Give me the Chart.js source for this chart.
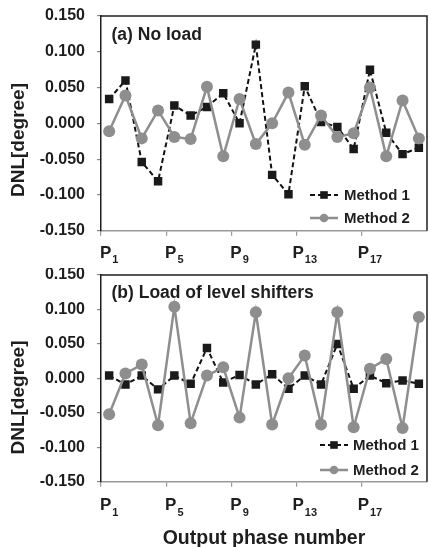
<!DOCTYPE html>
<html><head><meta charset="utf-8">
<script src="https://cdn.jsdelivr.net/npm/chart.js@4.4.1/dist/chart.umd.min.js"></script>
<style>
html,body{margin:0;padding:0;background:#fff;width:430px;height:547px;overflow:hidden}
.box{position:absolute;left:0;width:430px}
#b1{top:0;height:268px}
#b2{top:268px;height:279px}
canvas{display:block}
</style></head><body>
<div class="box" id="b1"><canvas id="c1" width="430" height="268"></canvas></div>
<div class="box" id="b2"><canvas id="c2" width="430" height="279"></canvas></div>
<script>
// ---- data ----
const phases = ['P1','P2','P3','P4','P5','P6','P7','P8','P9','P10','P11','P12','P13','P14','P15','P16','P17','P18','P19','P20'];
const shownPhases = ['P1','P5','P9','P13','P17'];
const seriesNames = ['Method 1','Method 2'];
const panelTitles = ['(a) No load','(b) Load of level shifters'];
const yAxisTitle = 'DNL[degree]';
const xAxisTitle = 'Output phase number';
const noLoadMethod1 = [0.034,0.060,-0.054,-0.081,0.025,0.011,0.023,0.042,0.000,0.110,-0.072,-0.099,0.052,0.002,-0.005,-0.036,0.075,-0.013,-0.043,-0.034];
const noLoadMethod2 = [-0.011,0.039,-0.021,0.018,-0.019,-0.022,0.051,-0.046,0.034,-0.029,0.000,0.043,-0.030,0.011,-0.019,-0.014,0.050,-0.046,0.032,-0.021];
const shifterMethod1 = [0.004,-0.009,0.004,-0.016,0.004,-0.008,0.044,-0.006,0.005,-0.009,0.006,-0.015,0.004,-0.009,0.050,-0.015,0.004,-0.007,-0.003,-0.008];
const shifterMethod2 = [-0.052,0.007,0.020,-0.068,0.104,-0.065,0.004,0.016,-0.057,0.096,-0.067,0.000,0.033,-0.067,0.096,-0.071,0.014,0.028,-0.072,0.089];
const yMin = -0.15, yMax = 0.15, yStep = 0.05;

const FONT = "'Liberation Sans', Arial, Helvetica, sans-serif";
const DARK = '#1e1e1e';
const GRAY = '#8e8e8e';

function makeDatasets(m1, m2) {
  return [
    { label: seriesNames[0], data: m1, order: 1,
      borderColor: '#111', backgroundColor: '#111', borderWidth: 2, borderDash: [5,3],
      pointStyle: 'rect', pointRadius: 6, pointHoverRadius: 6,
      pointBackgroundColor: '#1a1a1a', pointBorderColor: '#1a1a1a', pointBorderWidth: 0, tension: 0 },
    { label: seriesNames[1], data: m2, order: 0,
      borderColor: GRAY, backgroundColor: GRAY, borderWidth: 2.5,
      pointStyle: 'circle', pointRadius: 6, pointHoverRadius: 6,
      pointBackgroundColor: GRAY, pointBorderColor: GRAY, pointBorderWidth: 0, tension: 0 }
  ];
}

function decorPlugin(cfg) {
  return {
    id: 'decor',
    beforeDatasetsDraw(chart) {
      const {ctx, chartArea: a} = chart;
      ctx.save();
      ctx.strokeStyle = DARK; ctx.lineWidth = 1.5;
      ctx.beginPath();
      ctx.moveTo(a.left, a.top); ctx.lineTo(a.right, a.top); ctx.lineTo(a.right, a.bottom);
      ctx.stroke();
      ctx.restore();
    },
    afterDraw(chart) {
      const {ctx} = chart;
      const xs = chart.scales.x;
      ctx.save();
      ctx.fillStyle = DARK;
      // x tick labels with subscripts
      shownPhases.forEach(lab => {
        const idx = phases.indexOf(lab);
        const cx = xs.getPixelForValue(idx);
        const main = lab.slice(0,1), sub = lab.slice(1);
        ctx.font = 'bold 17px ' + FONT;
        const w1 = ctx.measureText(main).width;
        ctx.font = 'bold 11px ' + FONT;
        const w2 = ctx.measureText(sub).width;
        const x0 = cx - (w1 + 1 + w2) / 2;
        ctx.textAlign = 'left'; ctx.textBaseline = 'alphabetic';
        ctx.font = 'bold 17px ' + FONT;
        ctx.fillText(main, x0, cfg.labelBase);
        ctx.font = 'bold 11px ' + FONT;
        ctx.fillText(sub, x0 + w1 + 1, cfg.labelBase + 5.5);
      });
      // y axis title
      ctx.save();
      ctx.translate(cfg.yTitleX, cfg.yTitleY);
      ctx.rotate(-Math.PI / 2);
      ctx.font = 'bold 19px ' + FONT;
      ctx.textAlign = 'center'; ctx.textBaseline = 'middle';
      ctx.fillText(yAxisTitle, 0, 0);
      ctx.restore();
      // panel title
      ctx.font = 'bold 17.5px ' + FONT;
      ctx.textAlign = 'left'; ctx.textBaseline = 'middle';
      ctx.fillText(cfg.panel, cfg.panelX, cfg.panelY);
      // x axis title
      if (cfg.xTitle) {
        ctx.font = 'bold 19.5px ' + FONT;
        ctx.textAlign = 'center'; ctx.textBaseline = 'alphabetic';
        const a = chart.chartArea;
        ctx.fillText(cfg.xTitle, (a.left + a.right) / 2, cfg.xTitleY);
      }
      // legend
      chart.data.datasets.forEach((ds, i) => {
        const y = cfg.legY[i];
        ctx.save();
        ctx.strokeStyle = ds.borderColor; ctx.lineWidth = ds.borderWidth;
        ctx.setLineDash(ds.borderDash || []);
        ctx.beginPath(); ctx.moveTo(cfg.legX0, y); ctx.lineTo(cfg.legX1, y); ctx.stroke();
        ctx.setLineDash([]);
        const mx = (cfg.legX0 + cfg.legX1) / 2;
        ctx.fillStyle = ds.pointBackgroundColor;
        if (ds.pointStyle === 'rect') ctx.fillRect(mx - 3.8, y - 3.8, 7.6, 7.6);
        else { ctx.beginPath(); ctx.arc(mx, y, 4.3, 0, Math.PI * 2); ctx.fill(); }
        ctx.restore();
        ctx.fillStyle = DARK;
        ctx.font = 'bold 15px ' + FONT;
        ctx.textAlign = 'left'; ctx.textBaseline = 'middle';
        ctx.fillText(ds.label, cfg.legText, y + 0.5);
      });
      ctx.restore();
    }
  };
}

function makeChart(id, m1, m2, topPad, xHeight, cfg) {
  return new Chart(document.getElementById(id), {
    type: 'line',
    data: { labels: phases, datasets: makeDatasets(m1, m2) },
    options: {
      responsive: false, animation: false, devicePixelRatio: 1,
      layout: { padding: { left: 0, right: 3, top: topPad, bottom: 0 }, autoPadding: false },
      plugins: { legend: { display: false }, tooltip: { enabled: false } },
      scales: {
        x: {
          type: 'category', offset: true,
          grid: { offset: true, drawOnChartArea: false, drawTicks: true, tickLength: 5,
                  color: c => (c.index % 4 === 0 ? '#999' : 'rgba(0,0,0,0)'), lineWidth: 1.2 },
          border: { display: true, color: '#999', width: 1.5 },
          ticks: { display: false },
          afterFit: s => { s.height = xHeight; s.paddingLeft = 0; s.paddingRight = 0; }
        },
        y: {
          min: yMin, max: yMax,
          ticks: { stepSize: yStep, padding: 12, color: DARK,
                   font: { family: FONT, weight: 'bold', size: 16 },
                   callback: v => (Math.abs(v) < 1e-9 ? 0 : v).toFixed(3) },
          grid: { drawOnChartArea: false, drawTicks: true, tickLength: 4, color: '#888', lineWidth: 1.2 },
          border: { display: true, color: DARK, width: 1.5 },
          afterFit: s => { s.width = 101; s.paddingTop = 0; s.paddingBottom = 0; }
        }
      }
    },
    plugins: [decorPlugin(cfg)]
  });
}

makeChart('c1', noLoadMethod1, noLoadMethod2, 16, 37.3, {
  labelBase: 257.5, yTitleX: 18.5, yTitleY: 140, panel: panelTitles[0], panelX: 111.5, panelY: 35,
  legY: [195, 218], legX0: 310, legX1: 338, legText: 344
});
makeChart('c2', shifterMethod1, shifterMethod2, 7, 65.3, {
  labelBase: 242, yTitleX: 18.5, yTitleY: 129.5, panel: panelTitles[1], panelX: 111.5, panelY: 25.3,
  legY: [177, 202], legX0: 320, legX1: 348, legText: 353,
  xTitle: xAxisTitle, xTitleY: 275.5
});
</script>
</body></html>
